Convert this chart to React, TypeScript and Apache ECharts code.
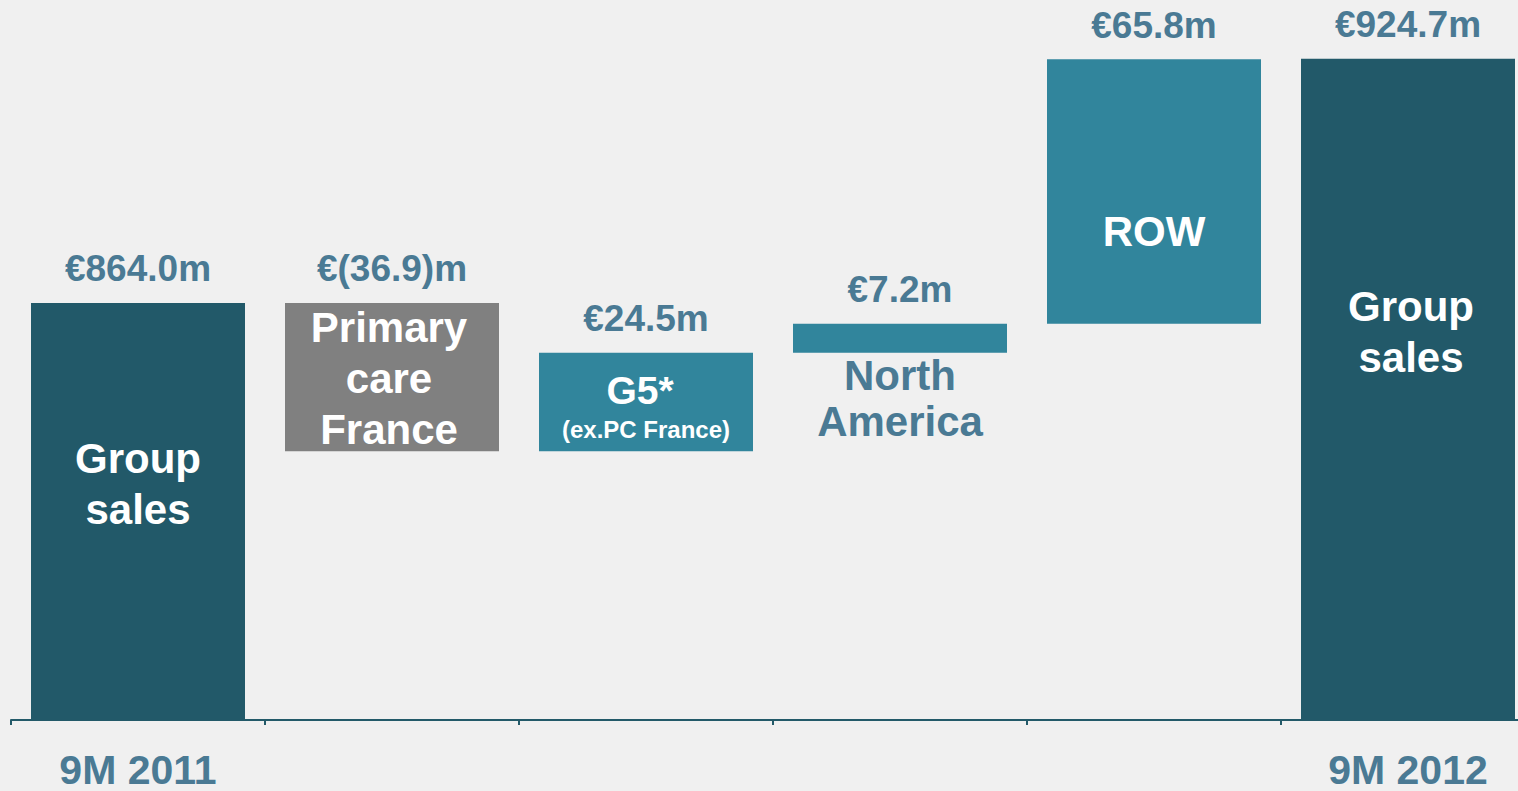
import React, { useEffect, useRef } from "react";
import * as echarts from "echarts";

const categories = ["9M 2011", "Primary care France", "G5 (ex.PC France)", "North America", "ROW", "9M 2012"];
const axisLabels = ["9M 2011", "", "", "", "", "9M 2012"];
const startTotal = 864.0;
const changes = [-36.9, 24.5, 7.2, 65.8];
const endTotal = 924.7;
const innerLabels = ["Group\nsales", "Primary\ncare\nFrance", "{a|G5*}\n{b|(ex.PC France)}", "North\nAmerica", "ROW", "Group\nsales"];
const barColors = ["#225969", "#808080", "#31859c", "#31859c", "#31859c", "#225969"];

const FONT = '"Liberation Sans", Arial, Helvetica, sans-serif';
const BLUE_TEXT = "#4a7a94";

export default function App() {
  const ref = useRef<HTMLDivElement>(null);
  useEffect(() => {
    const chart = echarts.init(ref.current!, null, { renderer: "svg" });
    const bases: number[] = [0];
    const heights: number[] = [startTotal];
    const signed: number[] = [startTotal];
    let run = startTotal;
    changes.forEach((c) => {
      bases.push(Math.min(run, run + c));
      heights.push(Math.abs(c));
      signed.push(c);
      run += c;
    });
    bases.push(0);
    heights.push(endTotal);
    signed.push(endTotal);
    const fmt = (v: number) => (v < 0 ? `€(${Math.abs(v).toFixed(1)})m` : `€${v.toFixed(1)}m`);

    const white = { color: "#ffffff", fontWeight: "bold" as const, fontFamily: FONT };
    const labelStyles: any[] = [
      { position: "inside", offset: [0, -27], fontSize: 42, lineHeight: 51, ...white },
      { position: "inside", offset: [-3, 1], fontSize: 42, lineHeight: 51, ...white },
      {
        position: "inside",
        offset: [0, 7],
        ...white,
        rich: {
          a: { fontSize: 39, lineHeight: 40, padding: [0, 12, 0, 0], ...white },
          b: { fontSize: 24, lineHeight: 38, ...white },
        },
      },
      { position: "bottom", distance: 0, fontSize: 42, lineHeight: 46, color: BLUE_TEXT, fontWeight: "bold", fontFamily: FONT },
      { position: "inside", offset: [0, 40], fontSize: 42, lineHeight: 46, ...white },
      { position: "inside", offset: [3, -57], fontSize: 42, lineHeight: 51, ...white },
    ];

    const BW = 214;
    chart.setOption({
      animation: false,
      backgroundColor: "#f0f0f0",
      grid: { left: 11, top: 0, width: 1524, bottom: 71, containLabel: false, outerBoundsMode: "none" },
      xAxis: {
        type: "category",
        data: categories,
        axisLine: { show: true, lineStyle: { color: "#235a69", width: 2 } },
        axisTick: { show: true, length: 5, lineStyle: { color: "#235a69", width: 2 } },
        axisLabel: {
          interval: 0,
          margin: 29,
          formatter: (_v: string, i: number) => axisLabels[i],
          color: BLUE_TEXT,
          fontSize: 41,
          lineHeight: 41,
          fontWeight: "bold",
          fontFamily: FONT,
        },
      },
      yAxis: { type: "value", min: 760.3, max: 939.3, show: false, splitLine: { show: false } },
      series: [
        {
          type: "bar",
          stack: "a",
          barWidth: BW,
          silent: true,
          itemStyle: { color: "transparent" },
          data: bases,
        },
        {
          type: "bar",
          stack: "a",
          barWidth: BW,
          data: heights.map((h, i) => ({
            value: h,
            itemStyle: { color: barColors[i] },
            label: { show: true, formatter: innerLabels[i], ...labelStyles[i] },
          })),
        },
        {
          type: "bar",
          stack: "b",
          barWidth: BW,
          barGap: "-100%",
          silent: true,
          itemStyle: { color: "transparent" },
          data: bases,
        },
        {
          type: "bar",
          stack: "b",
          barWidth: BW,
          barGap: "-100%",
          silent: true,
          itemStyle: { color: "transparent" },
          label: {
            show: true,
            position: "top",
            distance: 15,
            color: BLUE_TEXT,
            fontSize: 37,
            lineHeight: 38,
            fontWeight: "bold",
            fontFamily: FONT,
            formatter: (p: any) => fmt(signed[p.dataIndex]),
          },
          data: heights,
        },
      ],
    });
    return () => chart.dispose();
  }, []);
  return <div ref={ref} style={{ position: "fixed", left: 0, top: 0, width: 1518, height: 791 }} />;
}
